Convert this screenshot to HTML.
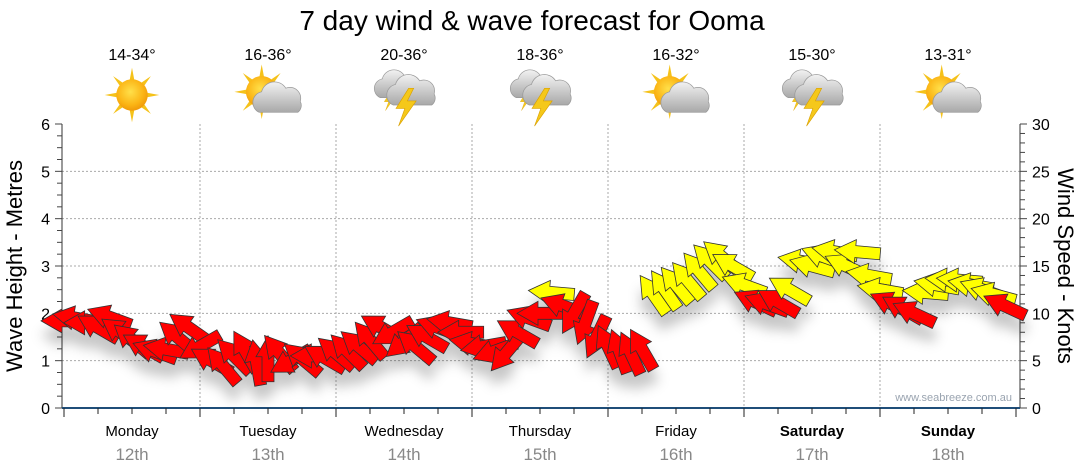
<!DOCTYPE html>
<html><head><meta charset="utf-8">
<style>
html,body{margin:0;padding:0;background:#fff;}
svg{display:block;font-family:"Liberation Sans",sans-serif;}
</style></head>
<body>
<svg id="chart" width="1080" height="475" viewBox="0 0 1080 475" xmlns="http://www.w3.org/2000/svg">
<defs>
<radialGradient id="sunG" cx="0.45" cy="0.4" r="0.6"><stop offset="0" stop-color="#ffe04a"/><stop offset="0.7" stop-color="#fbb414"/><stop offset="1" stop-color="#f09a0a"/></radialGradient>
<linearGradient id="cloudG" x1="0" y1="0" x2="0" y2="1"><stop offset="0" stop-color="#f2f2f2"/><stop offset="1" stop-color="#a8a8a8"/></linearGradient>
<filter id="shadow" x="-20%" y="-20%" width="140%" height="160%"><feDropShadow dx="0" dy="14" stdDeviation="6" flood-color="#000" flood-opacity="0.22"/></filter>
<g id="sunI"><g fill="#f5c21a"><polygon points="0,-26 3,-10 -3,-10"/><polygon points="0,26 3,10 -3,10"/><polygon points="-26,0 -10,3 -10,-3"/><polygon points="26,0 10,3 10,-3"/><polygon points="18,-18 9,-5 5,-9"/><polygon points="-18,-18 -9,-5 -5,-9"/><polygon points="18,18 9,5 5,9"/><polygon points="-18,18 -9,5 -5,9"/></g><circle r="15" fill="url(#sunG)"/></g>
<g id="cloudI"><path d="M-16,10 a9,9 0 0 1 2,-17 a11,11 0 0 1 20,-3 a9,9 0 0 1 12,11 a7,7 0 0 1 -2,9 z" fill="url(#cloudG)" stroke="#999" stroke-width="0.6"/></g>
<g id="boltI"><polygon points="2,-12 -8,4 -1,4 -6,18 8,-2 1,-2 6,-12" fill="#f5c81a" stroke="#d9a000" stroke-width="0.5"/></g>
</defs>
<text x="532" y="30" font-size="28" text-anchor="middle" fill="#000">7 day wind &amp; wave forecast for Ooma</text>
<g id="grid"></g>
<g id="axes"></g>
<g id="icons"></g>
<g id="arrows" filter="url(#shadow)"></g>
<text x="1012" y="401" font-size="11" text-anchor="end" fill="#9aa4b0">www.seabreeze.com.au</text>
<text transform="translate(22,266) rotate(-90)" font-size="22" text-anchor="middle">Wave Height - Metres</text>
<text transform="translate(1058,266) rotate(90)" font-size="22" text-anchor="middle">Wind Speed - Knots</text>
</svg>
<script>
const days = ["Monday","Tuesday","Wednesday","Thursday","Friday","Saturday","Sunday"];
const dates = ["12th","13th","14th","15th","16th","17th","18th"];
const temps = ["14-34°","16-36°","20-36°","18-36°","16-32°","15-30°","13-31°"];
const weather = ["sun","partly","storm","storm","partly","storm","partly"];
const waveTicks = [0,1,2,3,4,5,6];
const knotTicks = [0,5,10,15,20,25,30];
// wind every 2 hours from Monday 00:00
const windSpeed = [
 9.2,9.5,9.0,8.5,9.6,8.0,7.2,6.5,6.0,6.2,7.5,8.5,
 6.5,5.0,4.5,5.5,6.0,4.8,5.2,5.8,5.0,5.2,5.5,5.3,
 5.8,6.0,6.5,7.2,8.5,8.0,7.0,6.5,7.5,8.5,9.0,8.0,
 6.8,6.5,6.0,5.8,8.0,9.5,10.0,12.2,10.8,10.0,9.0,7.5,
 6.5,6.0,5.8,6.2,12.0,12.5,13.0,13.5,14.5,15.5,16.0,15.0,
 13.0,11.2,11.0,11.2,12.5,15.5,15.0,16.0,16.5,15.0,16.5,14.0,
 12.5,11.0,10.5,10.0,12.2,13.0,13.5,13.5,13.0,12.5,12.0,10.8];
const windDir = [
 90,100,90,120,110,125,130,120,110,100,130,125,
 60,120,140,135,150,170,180,140,60,130,90,120,
 130,135,130,140,120,60,50,130,120,110,100,90,
 100,80,70,40,120,110,90,95,110,30,20,25,
 155,160,155,150,145,145,140,140,140,135,130,120,
 110,115,110,120,120,100,105,110,100,115,95,100,
 100,115,120,115,95,100,95,95,100,110,105,115];

const NS="http://www.w3.org/2000/svg";
const X0=64, DAYW=136, YB=408, YT=124, XL=62, XR=1020;
const xHour = h => X0 + h*DAYW/24;
const yWave = m => YB - m*(YB-YT)/6;
const yKnot = k => YB - k*(YB-YT)/30;
function mk(tag, attrs, parent){const e=document.createElementNS(NS,tag);for(const k in attrs)e.setAttribute(k,attrs[k]);parent.appendChild(e);return e;}
const grid=document.getElementById('grid'), axes=document.getElementById('axes'), icons=document.getElementById('icons'), arrows=document.getElementById('arrows');

waveTicks.forEach(v=>{ if(v>0 && v<6){const l=mk('line',{x1:XL,x2:XR,y1:yWave(v),y2:yWave(v),stroke:'#aaa','stroke-dasharray':'2,2','stroke-width':1},grid);
 
 }});
for(let d=1;d<7;d++){const l=mk('line',{x1:xHour(d*24),x2:xHour(d*24),y1:YT,y2:YB,stroke:'#aaa','stroke-dasharray':'2,2','stroke-width':1},grid);
 
 }

const la=mk('line',{x1:XL,x2:XL,y1:YT,y2:YB,stroke:'#333'},axes);


const ra=mk('line',{x1:XR,x2:XR,y1:YT,y2:YB,stroke:'#333'},axes);


for(let m=0;m<=24;m++){const y=yWave(m/4);mk('line',{x1:XL-(m%4?5:7),x2:XL,y1:y,y2:y,stroke:'#444'},axes);}
for(let k=0;k<=30;k++){const y=yKnot(k);mk('line',{x1:XR,x2:XR+(k%5?5:7),y1:y,y2:y,stroke:'#444'},axes);}
waveTicks.forEach(v=>{const t=mk('text',{x:XL-12,y:yWave(v)+6,'font-size':16,'text-anchor':'end'},axes);t.textContent=v;
 
 });
knotTicks.forEach(v=>{const t=mk('text',{x:XR+12,y:yKnot(v)+6,'font-size':16,'text-anchor':'start'},axes);t.textContent=v;
 
 });
const ba=mk('line',{x1:XL,x2:XR,y1:YB,y2:YB,stroke:'#1f4e79','stroke-width':2},axes);


for(let h=0;h<=168;h+=6){const x=xHour(h);mk('line',{x1:x,x2:x,y1:YB,y2:YB+(h%24?6:9),stroke:'#222'},axes);}

days.forEach((d,i)=>{const cx=xHour(i*24+12);
 const t=mk('text',{x:cx,y:436,'font-size':15,'text-anchor':'middle','font-weight':i>=5?'bold':'normal'},axes);t.textContent=d;
 
 
 const s=mk('text',{x:cx,y:460,'font-size':17,'text-anchor':'middle',fill:'#888'},axes);s.textContent=dates[i];
 
 
 const tt=mk('text',{x:cx,y:60,'font-size':16,'text-anchor':'middle'},icons);tt.textContent=temps[i];
 
 
 const g=mk('g',{transform:`translate(${cx},${95}) scale(1.05)`},icons);
 
 
 const w=weather[i];
 if(w==='sun'){mk('use',{href:'#sunI'},g);}
 else if(w==='partly'){mk('use',{href:'#sunI',transform:'translate(-6,-3)'},g);mk('use',{href:'#cloudI',transform:'translate(10,5) scale(1.15)'},g);}
 else {mk('use',{href:'#boltI',transform:'translate(-14,4) scale(0.6)'},g);mk('use',{href:'#cloudI',transform:'translate(-6,-8) scale(1.05)'},g);mk('use',{href:'#cloudI',transform:'translate(8,-2) scale(1.15)'},g);mk('use',{href:'#boltI',transform:'translate(2,8) scale(1.2)'},g);}
});

// arrow shape pointing +x, centred at origin
const shape="-23,-6 2,-6 2,-12 23,0 2,12 2,6 -23,6";
windSpeed.forEach((k,i)=>{
 const x=xHour(i*2), y=yKnot(k);
 const ang=90+windDir[i];
 const p=mk('polygon',{points:shape,transform:`translate(${x},${y}) rotate(${ang})`,fill:k>=12?'#ffff00':'#ff0000',stroke:'#333','stroke-width':0.8},arrows);
 
 
});
</script>
</body></html>
